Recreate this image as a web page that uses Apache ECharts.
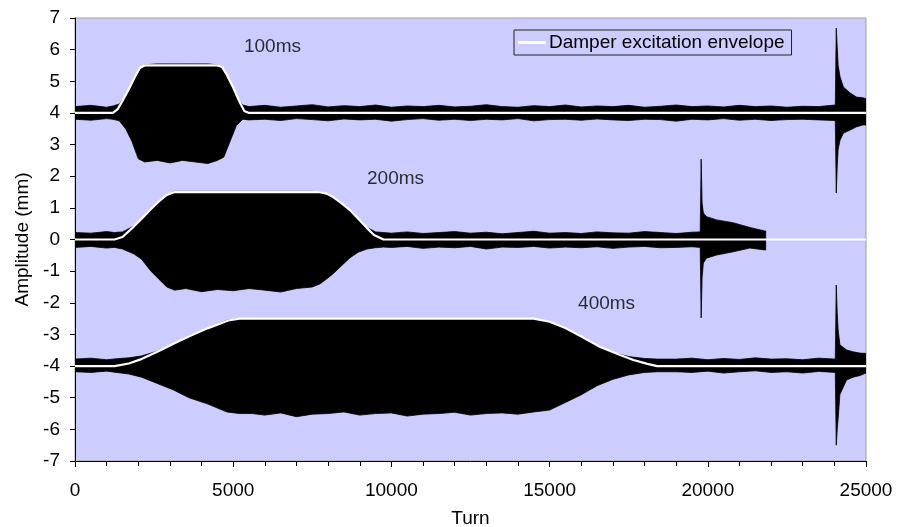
<!DOCTYPE html>
<html>
<head>
<meta charset="utf-8">
<title>Damper excitation</title>
<script src="https://cdn.jsdelivr.net/npm/echarts@6/dist/echarts.min.js"></script>
<style>
    html, body { margin: 0; padding: 0; background: #fff; }
    #main { width: 902px; height: 527px; }
</style>
</head>
<body>
<div id="main"></div>
<script>
// 100ms trace (offset +4)
const turns100 = [0, 500, 1000, 1200, 1400, 1600, 1800, 2000, 2200, 2600, 3000, 3400, 3800, 4200, 4500, 4700, 4900, 5100, 5300,
    5500, 6000, 6500, 7000, 7500, 8000, 8500, 9000, 9500, 10000, 10500, 11000, 11500, 12000, 12500, 13000, 13500, 14000, 14500,
    15000, 15500, 16000, 16500, 17000, 17500, 18000, 18500, 19000, 19500, 20000, 20500, 21000, 21500, 22000, 22500, 23000, 23500, 24030,
    24060, 24090, 24120, 24180, 24285, 24500, 24700, 24900, 25000];
const upper100 = [4.2, 4.24, 4.18, 4.22, 4.28, 4.55, 4.9, 5.3, 5.52, 5.55, 5.55, 5.55, 5.55, 5.55, 5.52, 5.35, 4.95, 4.5, 4.25,
    4.2, 4.24, 4.18, 4.22, 4.26, 4.19, 4.23, 4.2, 4.25, 4.18, 4.22, 4.2, 4.24, 4.19, 4.21, 4.26, 4.2, 4.18, 4.23,
    4.2, 4.25, 4.19, 4.22, 4.2, 4.24, 4.18, 4.21, 4.25, 4.2, 4.22, 4.19, 4.24, 4.2, 4.22, 4.18, 4.21, 4.2, 4.25,
    6.68, 6.1, 5.5, 5.14, 4.82, 4.63, 4.5, 4.48, 4.45];
const lower100 = [3.8, 3.77, 3.82, 3.8, 3.75, 3.5, 3.1, 2.55, 2.45, 2.5, 2.42, 2.5, 2.45, 2.4, 2.5, 2.6, 3.1, 3.6, 3.8,
    3.78, 3.8, 3.76, 3.82, 3.79, 3.75, 3.81, 3.78, 3.8, 3.74, 3.79, 3.82, 3.77, 3.8, 3.76, 3.8, 3.78, 3.82, 3.75,
    3.79, 3.8, 3.77, 3.81, 3.78, 3.76, 3.8, 3.79, 3.74, 3.8, 3.78, 3.82, 3.77, 3.8, 3.76, 3.79, 3.8, 3.78, 3.76,
    1.47, 2.3, 2.85, 3.14, 3.36, 3.46, 3.56, 3.62, 3.62];

// 200ms trace (offset 0)
const turns200 = [0, 500, 1000, 1250, 1500, 1850, 2100, 2400, 2700, 2900, 3150, 3500, 4000, 4500, 5000, 5500, 6000, 6500, 7000, 7500,
    7750, 7950, 8160, 8400, 8690, 8950, 9230, 9500, 9750,
    10000, 10500, 11000, 11500, 12000, 12500, 13000, 13500, 14000, 14500, 15000, 15500, 16000, 16500, 17000, 17500, 18000, 18500, 19000, 19500, 19760,
    19790, 19820, 19860, 19960, 20280, 20800, 21330, 21800, 21830];
const upper200 = [0.22, 0.2, 0.25, 0.22, 0.24, 0.42, 0.65, 0.96, 1.25, 1.42, 1.52, 1.52, 1.52, 1.52, 1.52, 1.52, 1.52, 1.52, 1.52, 1.52,
    1.5, 1.45, 1.34, 1.15, 0.93, 0.65, 0.38, 0.24, 0.22,
    0.2, 0.24, 0.19, 0.22, 0.25, 0.2, 0.23, 0.18, 0.22, 0.26, 0.2, 0.22, 0.19, 0.24, 0.21, 0.2, 0.25, 0.22, 0.19, 0.23, 0.24,
    2.54, 1.15, 0.84, 0.72, 0.62, 0.53, 0.38, 0.27, 0.27];
const lower200 = [-0.25, -0.22, -0.27, -0.25, -0.3, -0.45, -0.62, -1.0, -1.3, -1.5, -1.6, -1.55, -1.65, -1.58, -1.62, -1.55, -1.6, -1.66, -1.55, -1.5,
    -1.4, -1.25, -1.08, -0.85, -0.58, -0.4, -0.3, -0.26, -0.24,
    -0.25, -0.22, -0.28, -0.24, -0.26, -0.22, -0.3, -0.24, -0.25, -0.22, -0.27, -0.24, -0.26, -0.23, -0.28, -0.24, -0.22, -0.26, -0.25, -0.23, -0.25,
    -2.48, -1.2, -0.74, -0.59, -0.49, -0.39, -0.27, -0.33, -0.33];

// 400ms trace (offset -4)
const turns400 = [0, 500, 1000, 1300, 1700, 2100, 2600, 3100, 3600, 4200, 4800, 5200,
    5600, 6000, 6500, 7000, 7500, 8000, 8500, 9000, 9500, 10000, 10500, 11000, 11500, 12000, 12500, 13000, 13500, 14000, 14500,
    15000, 15500, 16000, 16500, 17000, 17500, 18000, 18400,
    19000, 19500, 20000, 20500, 21000, 21500, 22000, 22500, 23000, 23500, 24030,
    24060, 24090, 24120, 24175, 24385, 24595, 24805, 25000];
const upper400 = [-3.78, -3.75, -3.8, -3.77, -3.74, -3.68, -3.53, -3.3, -3.05, -2.8, -2.55, -2.5,
    -2.5, -2.5, -2.5, -2.5, -2.5, -2.5, -2.5, -2.5, -2.5, -2.5, -2.5, -2.5, -2.5, -2.5, -2.5, -2.5, -2.5, -2.5, -2.5,
    -2.6, -2.8, -3.08, -3.35, -3.57, -3.7, -3.76, -3.78,
    -3.78, -3.75, -3.8, -3.76, -3.79, -3.74, -3.78, -3.77, -3.8, -3.75, -3.78,
    -1.44, -2.3, -2.86, -3.33, -3.49, -3.55, -3.59, -3.6];
const lower400 = [-4.18, -4.2, -4.16, -4.2, -4.25, -4.35, -4.55, -4.75, -5.0, -5.2, -5.45, -5.5,
    -5.5, -5.55, -5.48, -5.6, -5.52, -5.5, -5.45, -5.55, -5.5, -5.48, -5.58, -5.52, -5.5, -5.46, -5.55, -5.5, -5.48, -5.52, -5.45,
    -5.39, -5.15, -4.91, -4.62, -4.42, -4.28, -4.2, -4.18,
    -4.18, -4.2, -4.16, -4.22, -4.18, -4.15, -4.2, -4.18, -4.22, -4.17, -4.2,
    -6.5, -6.0, -5.65, -4.9, -4.44, -4.35, -4.3, -4.22];

// damper excitation envelopes
const envTurns100 = [0, 1200, 1350, 1500, 1700, 1900, 2050, 2200, 4500, 4650, 4800, 5000, 5200, 5350, 5500, 25000];
const env100 = [4, 4, 4.12, 4.38, 4.75, 5.15, 5.42, 5.5, 5.5, 5.45, 5.2, 4.8, 4.35, 4.06, 4, 4];
const envTurns200 = [0, 1250, 1500, 1850, 2100, 2370, 2650, 2900, 3150, 7700, 7950, 8160, 8420, 8690, 8960, 9230, 9450, 9750, 25000];
const env200 = [0, 0, 0.08, 0.4, 0.65, 0.93, 1.2, 1.41, 1.5, 1.5, 1.45, 1.34, 1.15, 0.93, 0.65, 0.36, 0.14, 0, 0];
const envTurns400 = [0, 1250, 1700, 2100, 2600, 3160, 3700, 4210, 4840, 5200, 14500, 15000, 15500, 16060, 16600, 17230, 17650, 18090, 18400, 25000];
const env400 = [-4, -4, -3.92, -3.78, -3.55, -3.27, -3.02, -2.8, -2.56, -2.5, -2.5, -2.6, -2.8, -3.1, -3.4, -3.65, -3.81, -3.93, -4, -4];

// text labels
const noteTurns = [5340, 9230, 15900];
const noteAmps = [6.08, 1.91, -2.04];
const noteTexts = ['100ms', '200ms', '400ms'];

const xTicks = { min: 0, max: 25000, interval: 5000 };
const yTicks = { min: -7, max: 7, interval: 1 };

const FONT = '"Liberation Sans", Arial, sans-serif';
const ENV_NAME = 'Damper excitation envelope';

const bands = [
    { turns: turns100, upper: upper100, lower: lower100 },
    { turns: turns200, upper: upper200, lower: lower200 },
    { turns: turns400, upper: upper400, lower: lower400 }
];

const zip = (xs, ys) => xs.map((x, i) => [x, ys[i]]);

const chart = echarts.init(document.getElementById('main'));

const envSeries = [[envTurns100, env100], [envTurns200, env200], [envTurns400, env400]].map(function (e) {
    return {
        name: ENV_NAME,
        type: 'line',
        data: zip(e[0], e[1]),
        symbol: 'none',
        color: '#ffffff',
        lineStyle: { color: '#ffffff', width: 2.2 },
        z: 3,
        silent: true
    };
});

const option = {
    animation: false,
    textStyle: { fontFamily: FONT },
    grid: {
        left: 75, right: 36, top: 18, bottom: 66,
        outerBoundsMode: 'none',
        containLabel: false,
        show: true,
        backgroundColor: '#ccccff',
        borderColor: '#a0a0a0',
        borderWidth: 1
    },
    legend: {
        left: 514, top: 30,
        padding: [3, 7, 3, 4],
        itemWidth: 28, itemHeight: 3,
        itemGap: 0,
        borderColor: '#222', borderWidth: 1,
        data: [{ name: ENV_NAME, icon: 'rect' }],
        textStyle: { fontFamily: FONT, fontSize: 19, color: '#000', lineHeight: 19, padding: [0, 0, 0, -2] }
    },
    xAxis: {
        type: 'value',
        min: xTicks.min, max: xTicks.max, interval: xTicks.interval,
        name: 'Turn', nameLocation: 'middle', nameGap: 48,
        nameTextStyle: { fontFamily: FONT, fontSize: 19, color: '#000' },
        axisLine: { onZero: false, lineStyle: { color: '#000', width: 1 } },
        axisTick: { show: true, length: 6, lineStyle: { color: '#000' } },
        minorTick: { show: true, splitNumber: 5, length: 5, lineStyle: { color: '#000' } },
        splitLine: { show: false },
        axisLabel: { fontFamily: FONT, fontSize: 19, color: '#000', margin: 20, formatter: v => String(v) }
    },
    yAxis: {
        type: 'value',
        min: yTicks.min, max: yTicks.max, interval: yTicks.interval,
        name: 'Amplitude (mm)', nameLocation: 'middle', nameGap: 40,
        nameTextStyle: { fontFamily: FONT, fontSize: 19, color: '#000' },
        axisLine: { show: true, onZero: false, lineStyle: { color: '#000', width: 1 } },
        axisTick: { show: true, length: 5, lineStyle: { color: '#000' } },
        splitLine: { show: false },
        axisLabel: { fontFamily: FONT, fontSize: 19, color: '#000', margin: 15 }
    },
    series: [
        {
            // black signal bands, one polygon per trace
            name: 'signal',
            type: 'custom',
            data: [[0, 4], [0, 0], [0, -4]],
            encode: { x: 0, y: 1 },
            clip: true,
            silent: true,
            z: 2,
            renderItem: function (params, api) {
                const b = bands[params.dataIndex];
                const pts = [];
                for (let i = 0; i < b.turns.length; i++) {
                    pts.push(api.coord([b.turns[i], b.upper[i]]));
                }
                for (let i = b.turns.length - 1; i >= 0; i--) {
                    pts.push(api.coord([b.turns[i], b.lower[i]]));
                }
                return {
                    type: 'polygon',
                    shape: { points: pts },
                    style: { fill: '#000', stroke: '#000', lineWidth: 0.8 }
                };
            }
        },
        ...envSeries,
        {
            name: 'notes',
            type: 'scatter',
            data: noteTurns.map((t, i) => [t, noteAmps[i], noteTexts[i]]),
            symbolSize: 0,
            silent: true,
            z: 4,
            label: {
                show: true,
                position: 'right',
                distance: 0,
                formatter: p => p.data[2],
                fontFamily: FONT,
                fontSize: 19,
                color: '#000'
            }
        }
    ]
};

chart.setOption(option);
</script>
</body>
</html>
